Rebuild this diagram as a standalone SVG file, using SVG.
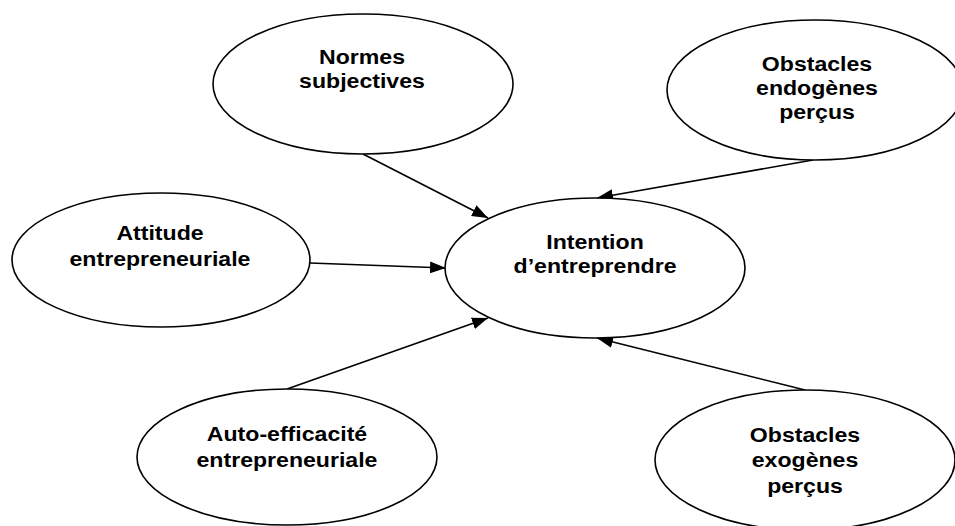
<svg xmlns="http://www.w3.org/2000/svg" width="955" height="526" viewBox="0 0 955 526">
<style>
.n{fill:#fff;stroke:#000;stroke-width:1.6}
.t{font-family:"Liberation Sans",Arial,sans-serif;font-weight:bold;font-size:21px;fill:#000;text-anchor:middle}
.c{stroke:#000;stroke-width:1.6;fill:none;marker-end:url(#ah)}
</style>
<defs>
<marker id="ah" viewBox="0 0 16 12" refX="16" refY="6" markerWidth="16" markerHeight="12" markerUnits="userSpaceOnUse" orient="auto">
<path d="M0,0 L16,6 L0,12 Z" fill="#000"/>
</marker>
</defs>
<g id="connectors">
<line class="c" x1="363" y1="154" x2="488" y2="218"/>
<line class="c" x1="813" y1="160" x2="597" y2="198"/>
<line class="c" x1="310" y1="263" x2="446" y2="268"/>
<line class="c" x1="287" y1="389" x2="488" y2="318"/>
<line class="c" x1="805" y1="390" x2="597" y2="338"/>
</g>
<g id="normes">
<ellipse class="n" cx="363" cy="84" rx="150" ry="70"/>
<text class="t" transform="translate(362,64) scale(1.1,1)">Normes</text>
<text class="t" transform="translate(362,88) scale(1.1,1)">subjectives</text>
</g>
<g id="endogenes">
<ellipse class="n" cx="815" cy="90" rx="148" ry="70"/>
<text class="t" transform="translate(817,71) scale(1.1,1)">Obstacles</text>
<text class="t" transform="translate(817,95) scale(1.1,1)">endogènes</text>
<text class="t" transform="translate(817,119) scale(1.1,1)">perçus</text>
</g>
<g id="attitude">
<ellipse class="n" cx="161" cy="260" rx="149" ry="67"/>
<text class="t" transform="translate(160,240) scale(1.1,1)">Attitude</text>
<text class="t" transform="translate(160,266) scale(1.1,1)">entrepreneuriale</text>
</g>
<g id="intention">
<ellipse class="n" cx="595" cy="268" rx="150" ry="70"/>
<text class="t" transform="translate(595,249) scale(1.1,1)">Intention</text>
<text class="t" transform="translate(595,273) scale(1.1,1)">d’entreprendre</text>
</g>
<g id="auto">
<ellipse class="n" cx="287" cy="457" rx="150" ry="68"/>
<text class="t" transform="translate(287,441) scale(1.1,1)">Auto-efficacité</text>
<text class="t" transform="translate(287,467) scale(1.1,1)">entrepreneuriale</text>
</g>
<g id="exogenes">
<ellipse class="n" cx="805" cy="460" rx="150" ry="70"/>
<text class="t" transform="translate(805,442) scale(1.1,1)">Obstacles</text>
<text class="t" transform="translate(805,467) scale(1.1,1)">exogènes</text>
<text class="t" transform="translate(805,493) scale(1.1,1)">perçus</text>
</g>
</svg>
